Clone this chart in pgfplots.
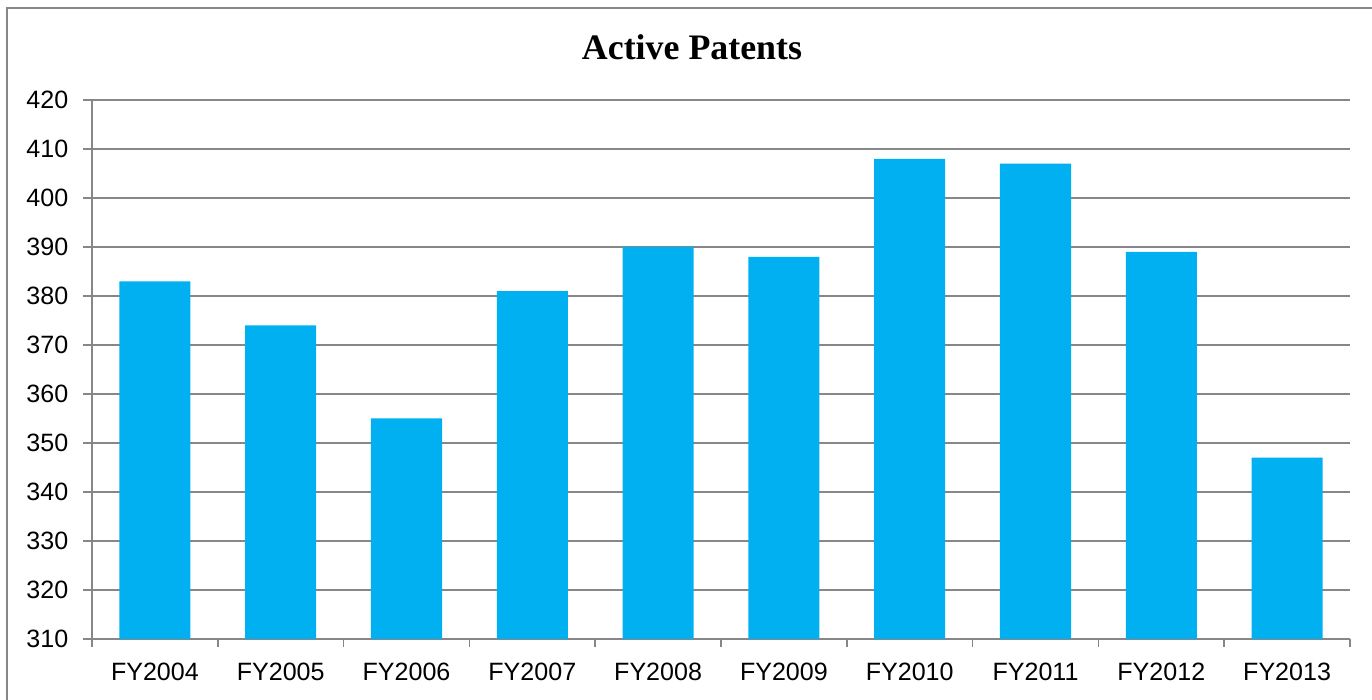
\documentclass[border=0pt]{standalone}
\usepackage{pgfplots}
\pgfplotsset{compat=1.18}
\usepackage{fontspec}
\setmainfont{Liberation Sans}
\newfontfamily\titlefont{Liberation Serif}
\definecolor{barblue}{HTML}{00B0F0}
\definecolor{gridgray}{HTML}{878787}
\begin{document}
\begin{tikzpicture}[x=0.75pt,y=0.75pt]
\coordinate (O) at (92,61);
\begin{axis}[
  at={(O)}, anchor=south west,
  scale only axis,
  width=943.5pt, height=404.25pt,
  ymin=310, ymax=420, ytick distance=10,
  xmin=-0.5, xmax=9.5,
  xtick={0,...,9},
  xticklabels={FY2004,FY2005,FY2006,FY2007,FY2008,FY2009,FY2010,FY2011,FY2012,FY2013},
  minor xtick={-0.5,0.5,...,9.5},
  axis x line*=bottom, axis y line*=left,
  axis line style={gridgray, line width=1.2pt, -},
  ymajorgrids, major grid style={gridgray, line width=1.2pt},
  tick align=outside,
  major x tick style={draw=none},
  minor x tick style={gridgray, line width=1.2pt},
  major y tick style={gridgray, line width=1.2pt},
  major tick length=6.75pt, minor tick length=6pt,
  ticklabel style={font=\fontsize{18.8}{22}\selectfont},
  xticklabel style={yshift=-8pt},
  yticklabel style={xshift=-7.5pt},
  /pgf/number format/assume math mode=true,
  ybar, bar width=53.3pt,
]
\addplot[fill=barblue, draw=none] coordinates {
  (0,383) (1,374) (2,355) (3,381) (4,390)
  (5,388) (6,408) (7,407) (8,389) (9,347)
};
\end{axis}
\node[font=\titlefont\bfseries\fontsize{26.9}{30}\selectfont] at (692,653) {Active Patents};
\draw[gridgray, line width=1.5pt] (7,-10) -- (7,692) -- (1380,692);
\pgfresetboundingbox
\path (0,0) rectangle (1372,700);
\end{tikzpicture}
\end{document}
